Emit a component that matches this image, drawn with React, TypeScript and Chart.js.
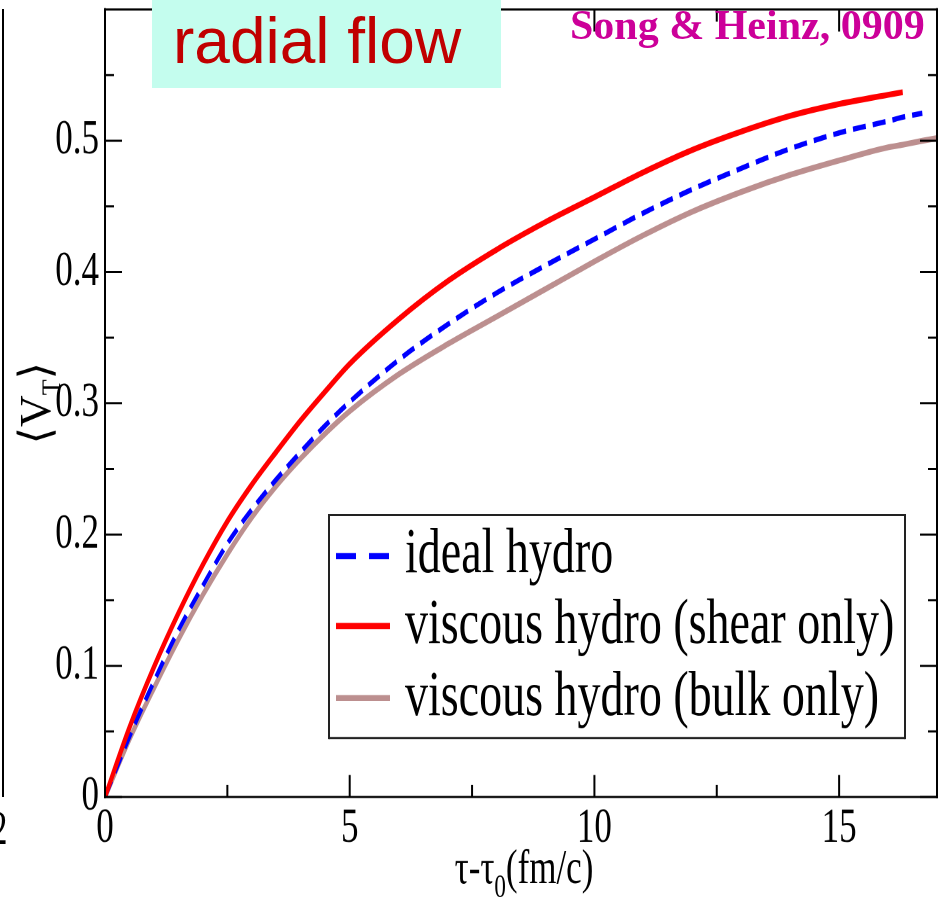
import { useEffect, useRef } from 'react';
import { Chart, registerables } from 'chart.js';

Chart.register(...registerables);

// vertical stretch of the whole plot picture
const S = 902 / 644;

const times = [0, 0.5, 1, 1.5, 2, 2.5, 3, 3.5, 4, 4.5, 5, 6, 7, 8, 9, 10, 11, 12, 13, 14, 15, 16, 16.3, 16.7, 17];
const idealHydro = [0, 0.046, 0.088, 0.127, 0.161, 0.193, 0.219, 0.242, 0.263, 0.283, 0.301, 0.333, 0.36, 0.384, 0.405, 0.425, 0.445, 0.463, 0.479, 0.494, 0.506, 0.515, 0.518, 0.521, null];
const shearOnly = [0, 0.053, 0.099, 0.14, 0.177, 0.21, 0.238, 0.263, 0.287, 0.309, 0.33, 0.364, 0.393, 0.417, 0.438, 0.457, 0.476, 0.493, 0.507, 0.519, 0.528, 0.535, 0.537, null, null];
const bulkOnly = [0, 0.044, 0.083, 0.12, 0.154, 0.185, 0.213, 0.237, 0.258, 0.277, 0.294, 0.322, 0.345, 0.366, 0.387, 0.408, 0.428, 0.446, 0.461, 0.474, 0.485, 0.495, 0.497, 0.5, 0.502];

const seriesLabels = ['ideal hydro', 'viscous hydro (shear only)', 'viscous hydro (bulk only)'];

const xMajor = [0, 5, 10, 15];
const xTickLabels = ['0', '5', '10', '15'];
const xMinor = [2.5, 7.5, 12.5];
const yMajor = [0, 0.1, 0.2, 0.3, 0.4, 0.5];
const yTickLabels = ['0', '0.1', '0.2', '0.3', '0.4', '0.5'];
const yMajorMarks = [0, 0.1, 0.2, 0.3, 0.4, 0.5, 0.6];
const yMinor = [0.05, 0.15, 0.25, 0.35, 0.45, 0.55];

const SERIF = "'Liberation Serif', 'Times New Roman', serif";

function pts(vals: (number | null)[]) {
  const out: { x: number; y: number }[] = [];
  vals.forEach((v, i) => {
    if (v !== null) out.push({ x: times[i], y: v });
  });
  return out;
}

const framePlugin = {
  id: 'frameTicks',
  afterDraw(chart: any) {
    const ctx = chart.ctx;
    const { left, right, top, bottom } = chart.chartArea;
    const xs = chart.scales.x;
    const ys = chart.scales.y;
    const line = (a: number, b: number, c: number, d: number) => {
      ctx.beginPath();
      ctx.moveTo(a, b);
      ctx.lineTo(c, d);
      ctx.stroke();
    };
    ctx.save();
    ctx.strokeStyle = '#000';
    ctx.lineCap = 'butt';
    ctx.lineWidth = 2;
    line(left, top - 1, left, bottom + 1);
    line(right, top - 1, right, bottom + 1);
    ctx.lineWidth = 1.5;
    line(left, top, right, top);
    line(left, bottom, right, bottom);
    // y ticks (left and right)
    ctx.lineWidth = 1.5;
    yMajorMarks.forEach((v) => {
      const y = ys.getPixelForValue(v);
      line(left, y, left + 17, y);
      line(right, y, right - 17, y);
    });
    yMinor.forEach((v) => {
      const y = ys.getPixelForValue(v);
      line(left, y, left + 9, y);
      line(right, y, right - 9, y);
    });
    // x ticks (bottom and top)
    ctx.lineWidth = 2;
    xMajor.forEach((v) => {
      const x = xs.getPixelForValue(v);
      line(x, bottom, x, bottom - 15.7);
      line(x, top, x, top + 15.7);
    });
    xMinor.forEach((v) => {
      const x = xs.getPixelForValue(v);
      line(x, bottom, x, bottom - 8.6);
      line(x, top, x, top + 8.6);
    });

    // x axis title: τ-τ0(fm/c)
    ctx.fillStyle = '#000';
    ctx.textBaseline = 'alphabetic';
    ctx.textAlign = 'left';
    const mainFont = `35px ${SERIF}`;
    const subFont = `23px ${SERIF}`;
    ctx.font = mainFont;
    const w1 = ctx.measureText('τ-τ').width;
    const w3 = ctx.measureText('(fm/c)').width;
    ctx.font = subFont;
    const w2 = ctx.measureText('0').width;
    const total = w1 + w2 + w3;
    let x0 = (left + right) / 2 - total / 2 + 3;
    const base = 883 / S;
    ctx.font = mainFont;
    ctx.fillText('τ-τ', x0, base);
    x0 += w1;
    ctx.font = subFont;
    ctx.fillText('0', x0, base + 10);
    x0 += w2;
    ctx.font = mainFont;
    ctx.fillText('(fm/c)', x0, base);

    // y axis title: ⟨V_T⟩ (drawn unstretched)
    ctx.save();
    ctx.translate(36, (top + bottom) / 2);
    ctx.scale(1, 1 / S);
    ctx.rotate(-Math.PI / 2);
    const bigFont = `44px ${SERIF}, 'DejaVu Sans'`;
    const smallFont = `26px ${SERIF}`;
    ctx.font = bigFont;
    const a1 = ctx.measureText('⟨').width;
    const a2 = ctx.measureText('V').width;
    const a4 = ctx.measureText('⟩').width;
    ctx.font = smallFont;
    const a3 = ctx.measureText('T').width;
    const tot = a1 + a2 + a3 + a4;
    let p = -tot / 2;
    const bl = 14;
    ctx.font = bigFont;
    ctx.fillText('⟨', p, bl);
    p += a1;
    ctx.fillText('V', p, bl);
    p += a2;
    ctx.font = smallFont;
    ctx.fillText('T', p, bl + 10);
    p += a3;
    ctx.font = bigFont;
    ctx.fillText('⟩', p, bl);
    ctx.restore();

    ctx.restore();
  },
};

const legendPlugin = {
  id: 'boxLegend',
  afterDatasetsDraw(chart: any) {
    const ctx = chart.ctx;
    const bx0 = 329;
    const bx1 = 905;
    const by0 = 515 / S;
    const by1 = 738 / S;
    ctx.save();
    ctx.fillStyle = '#fff';
    ctx.fillRect(bx0, by0, bx1 - bx0, by1 - by0);
    ctx.strokeStyle = '#222';
    const line = (a: number, b: number, c: number, d: number) => {
      ctx.beginPath();
      ctx.moveTo(a, b);
      ctx.lineTo(c, d);
      ctx.stroke();
    };
    ctx.lineWidth = 2;
    line(bx0, by0 - 0.7, bx0, by1 + 0.7);
    line(bx1, by0 - 0.7, bx1, by1 + 0.7);
    ctx.lineWidth = 1.5;
    line(bx0, by0, bx1, by0);
    line(bx0, by1, bx1, by1);

    const sampleY = [556, 626, 698];
    const textY = [572, 643, 715];
    chart.data.datasets.forEach((ds: any, i: number) => {
      const y = sampleY[i] / S;
      ctx.strokeStyle = ds.borderColor;
      ctx.lineWidth = 4.3;
      ctx.setLineDash(ds.borderDash && ds.borderDash.length ? [20, 13] : []);
      line(336, y, 390, y);
      ctx.setLineDash([]);
      ctx.fillStyle = '#000';
      ctx.font = `46px ${SERIF}`;
      ctx.textBaseline = 'alphabetic';
      ctx.textAlign = 'left';
      ctx.fillText(ds.label, 405, textY[i] / S);
    });
    ctx.restore();
  },
};

export default function App() {
  const ref = useRef<HTMLCanvasElement>(null);

  useEffect(() => {
    if (!ref.current) return;
    const chart = new Chart(ref.current, {
      type: 'line',
      data: {
        datasets: [
          {
            label: seriesLabels[0],
            data: pts(idealHydro),
            borderColor: '#0000ff',
            borderWidth: 3.8,
            borderDash: [13, 7],
            pointRadius: 0,
            cubicInterpolationMode: 'monotone',
            order: 1,
          },
          {
            label: seriesLabels[1],
            data: pts(shearOnly),
            borderColor: '#ff0000',
            borderWidth: 4.2,
            pointRadius: 0,
            cubicInterpolationMode: 'monotone',
            order: 0,
          },
          {
            label: seriesLabels[2],
            data: pts(bulkOnly),
            borderColor: '#bc8f8f',
            borderWidth: 4.2,
            pointRadius: 0,
            cubicInterpolationMode: 'monotone',
            order: 2,
          },
        ] as any,
      },
      options: {
        animation: false,
        responsive: false,
        devicePixelRatio: 2,
        parsing: false as any,
        layout: {
          padding: { top: 9.5 / S, right: 14, left: 0, bottom: 0 },
          autoPadding: false,
        } as any,
        plugins: {
          legend: { display: false },
          tooltip: { enabled: false },
          title: { display: false },
        },
        scales: {
          x: {
            type: 'linear',
            min: 0,
            max: 17,
            grid: { display: false, drawTicks: false },
            border: { display: false },
            ticks: {
              color: '#000',
              padding: 2,
              maxRotation: 0,
              font: { family: SERIF, size: 35 },
              callback: (_v: any, i: number) => xTickLabels[i],
            },
            afterBuildTicks: (s: any) => {
              s.ticks = xMajor.map((v) => ({ value: v }));
            },
            afterFit: (s: any) => {
              s.height = 644 - 797 / S;
              s.paddingLeft = 0;
              s.paddingRight = 0;
              s.paddingTop = 0;
              s.paddingBottom = 0;
            },
          },
          y: {
            type: 'linear',
            min: 0,
            max: 0.6,
            grid: { display: false, drawTicks: false },
            border: { display: false },
            ticks: {
              color: '#000',
              padding: 6,
              font: { family: SERIF, size: 35 },
              callback: (_v: any, i: number) => yTickLabels[i],
            },
            afterBuildTicks: (s: any) => {
              s.ticks = yMajor.map((v) => ({ value: v }));
            },
            afterFit: (s: any) => {
              s.width = 105;
              s.paddingLeft = 0;
              s.paddingRight = 0;
              s.paddingTop = 0;
              s.paddingBottom = 0;
            },
          },
        } as any,
      },
      plugins: [legendPlugin, framePlugin],
    });
    return () => chart.destroy();
  }, []);

  return (
    <div
      style={{
        position: 'absolute',
        left: 0,
        top: 0,
        width: 951,
        height: 902,
        overflow: 'hidden',
        background: '#fff',
      }}
    >
      <div
        style={{
          position: 'absolute',
          left: 0,
          top: 0,
          width: 951,
          height: 644,
          transform: `scaleY(${S})`,
          transformOrigin: '0 0',
        }}
      >
        <canvas ref={ref} width={951} height={644} style={{ display: 'block' }} />
      </div>
      {/* edge of the neighbouring panel */}
      <div
        style={{
          position: 'absolute',
          left: 2,
          top: 9,
          width: 0,
          height: 788,
          borderLeft: '2px solid #000',
        }}
      />
      <div
        style={{
          position: 'absolute',
          left: -10,
          top: 803,
          fontFamily: SERIF,
          fontSize: 35,
          lineHeight: 1,
          transform: `scaleY(${S})`,
          transformOrigin: '0 0',
        }}
      >
        2
      </div>
      <div
        style={{
          position: 'absolute',
          left: 152,
          top: 0,
          width: 349,
          height: 88,
          background: '#c4fdee',
        }}
      >
        <div
          style={{
            position: 'absolute',
            left: 21,
            top: 9,
            fontFamily: "'Liberation Sans', Arial, sans-serif",
            fontSize: 64,
            lineHeight: 1,
            color: '#c00000',
            whiteSpace: 'nowrap',
          }}
        >
          radial flow
        </div>
      </div>
      <div
        style={{
          position: 'absolute',
          left: 570,
          top: 4,
          fontFamily: SERIF,
          fontWeight: 'bold',
          fontSize: 42,
          lineHeight: 1,
          color: '#cc0099',
          whiteSpace: 'nowrap',
        }}
      >
        Song &amp; Heinz, 0909
      </div>
    </div>
  );
}
